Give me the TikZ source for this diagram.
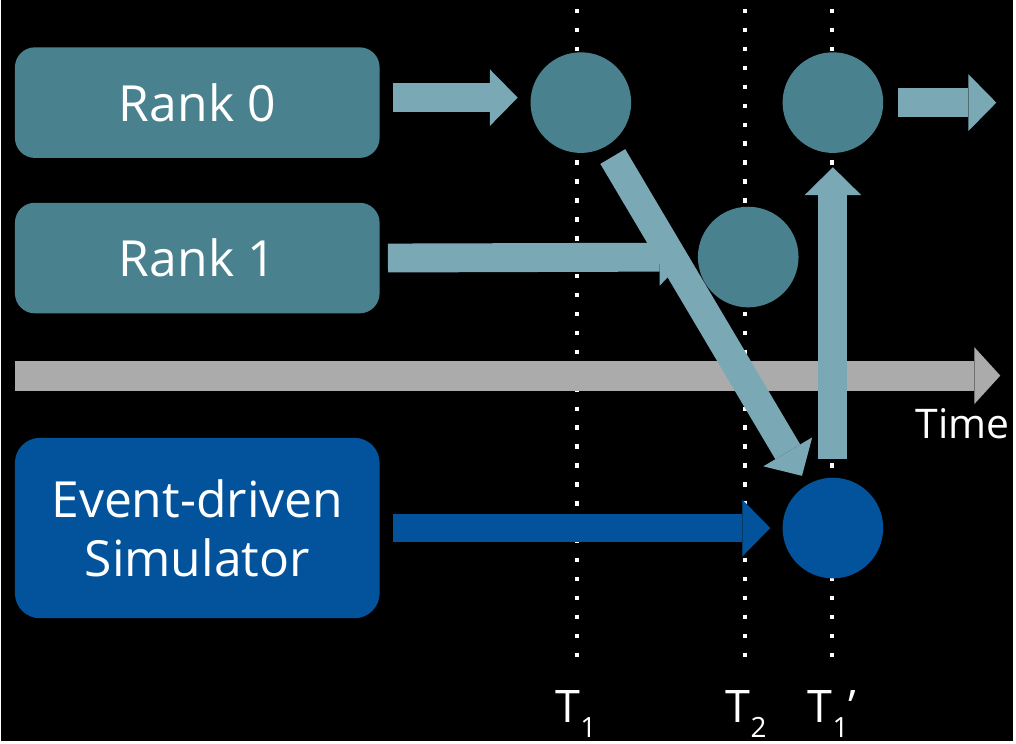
\documentclass[tikz,border=0pt]{standalone}
\usepackage{fontspec}
\setmainfont{Open Sans}
\usepackage{tikz}
\usetikzlibrary{arrows.meta}

\definecolor{rankteal}{HTML}{4A818F}
\definecolor{flowteal}{HTML}{7AA8B4}
\definecolor{simblue}{HTML}{02539C}
\definecolor{timegrey}{HTML}{ABABAB}

\newcommand{\Tsub}[1]{T\raisebox{-7.5pt}{\fontsize{14}{14}\selectfont #1}}

\begin{document}
\begin{tikzpicture}[x=0.5pt,y=-0.5pt,
    blockarrow/.style={line width=14.5pt,-{Triangle[length=14pt,width=28.5pt,line width=0pt]}},
    dotline/.style={white,line width=2.25pt,dash pattern=on 2.25pt off 7.25pt}]
  \tikzstyle{rank}=[rectangle,rounded corners=10pt,fill=rankteal,text=white,
                    minimum width=183pt,minimum height=55.5pt,inner sep=0pt,
                    font=\fontsize{25}{29.5}\selectfont]
  \tikzstyle{sim}=[rank,rounded corners=12.5pt,fill=simblue,minimum height=90.5pt,align=center]
  \tikzstyle{event}=[circle,fill=rankteal,minimum size=50.5pt,inner sep=0pt]
  \tikzstyle{tlabel}=[text=white,anchor=base,font=\fontsize{22.5}{26}\selectfont]

  \fill[black] (0,0) rectangle (1016,744);

  \foreach \x/\n in {578/1,747/2,834/3}{
    \coordinate (top\n) at (\x,9);
    \coordinate (bot\n) at (\x,660);
    \draw[dotline] (top\n) -- (bot\n);
  }

  \coordinate (ta) at (14,377);
  \coordinate (tb) at (1003,377);
  \draw[timegrey,line width=15pt,-{Triangle[length=13pt,width=28.5pt,line width=0pt]}] (ta) -- (tb);
  \node[text=white,anchor=base,font=\fontsize{20.5}{24}\selectfont] (time) at (965,440) {Time};

  \node[rank] (r0)  at (197,103) {Rank 0};
  \node[rank] (r1)  at (197,259) {Rank 1};
  \node[sim]  (sim) at (197,530) {Event-driven\\Simulator};

  \node[event] (c0a) at (582,103) {};
  \node[event] (c0b) at (835,103) {};
  \node[event] (c1)  at (750,258) {};
  \node[event,fill=simblue] (cs) at (835,530) {};
  \coordinate (out) at (999,103);

  \node[tlabel] (lab1) at (577,725) {\Tsub{1}};
  \node[tlabel] (lab2) at (748,725) {\Tsub{2}};
  \node[tlabel] (lab3) at (834,725) {\Tsub{1}’};

  \path (sim.east) edge [blockarrow,simblue,shorten <=6.5pt,shorten >=6pt] (cs.west)
        (c0a) edge [blockarrow,flowteal,shorten <=6pt,shorten >=5pt] (cs)
        (r1.east) edge [blockarrow,flowteal,shorten <=4pt,shorten >=5pt] (c1.west)
        (cs) edge [blockarrow,flowteal,shorten <=9pt,shorten >=7pt] (c0b)
        ([yshift=2.5pt]r0.east) edge [blockarrow,flowteal,shorten <=6.5pt,shorten >=6.25pt] ([yshift=2.5pt]c0a.west)
        (c0b) edge [blockarrow,flowteal,shorten <=7pt] (out);
\end{tikzpicture}
\end{document}
